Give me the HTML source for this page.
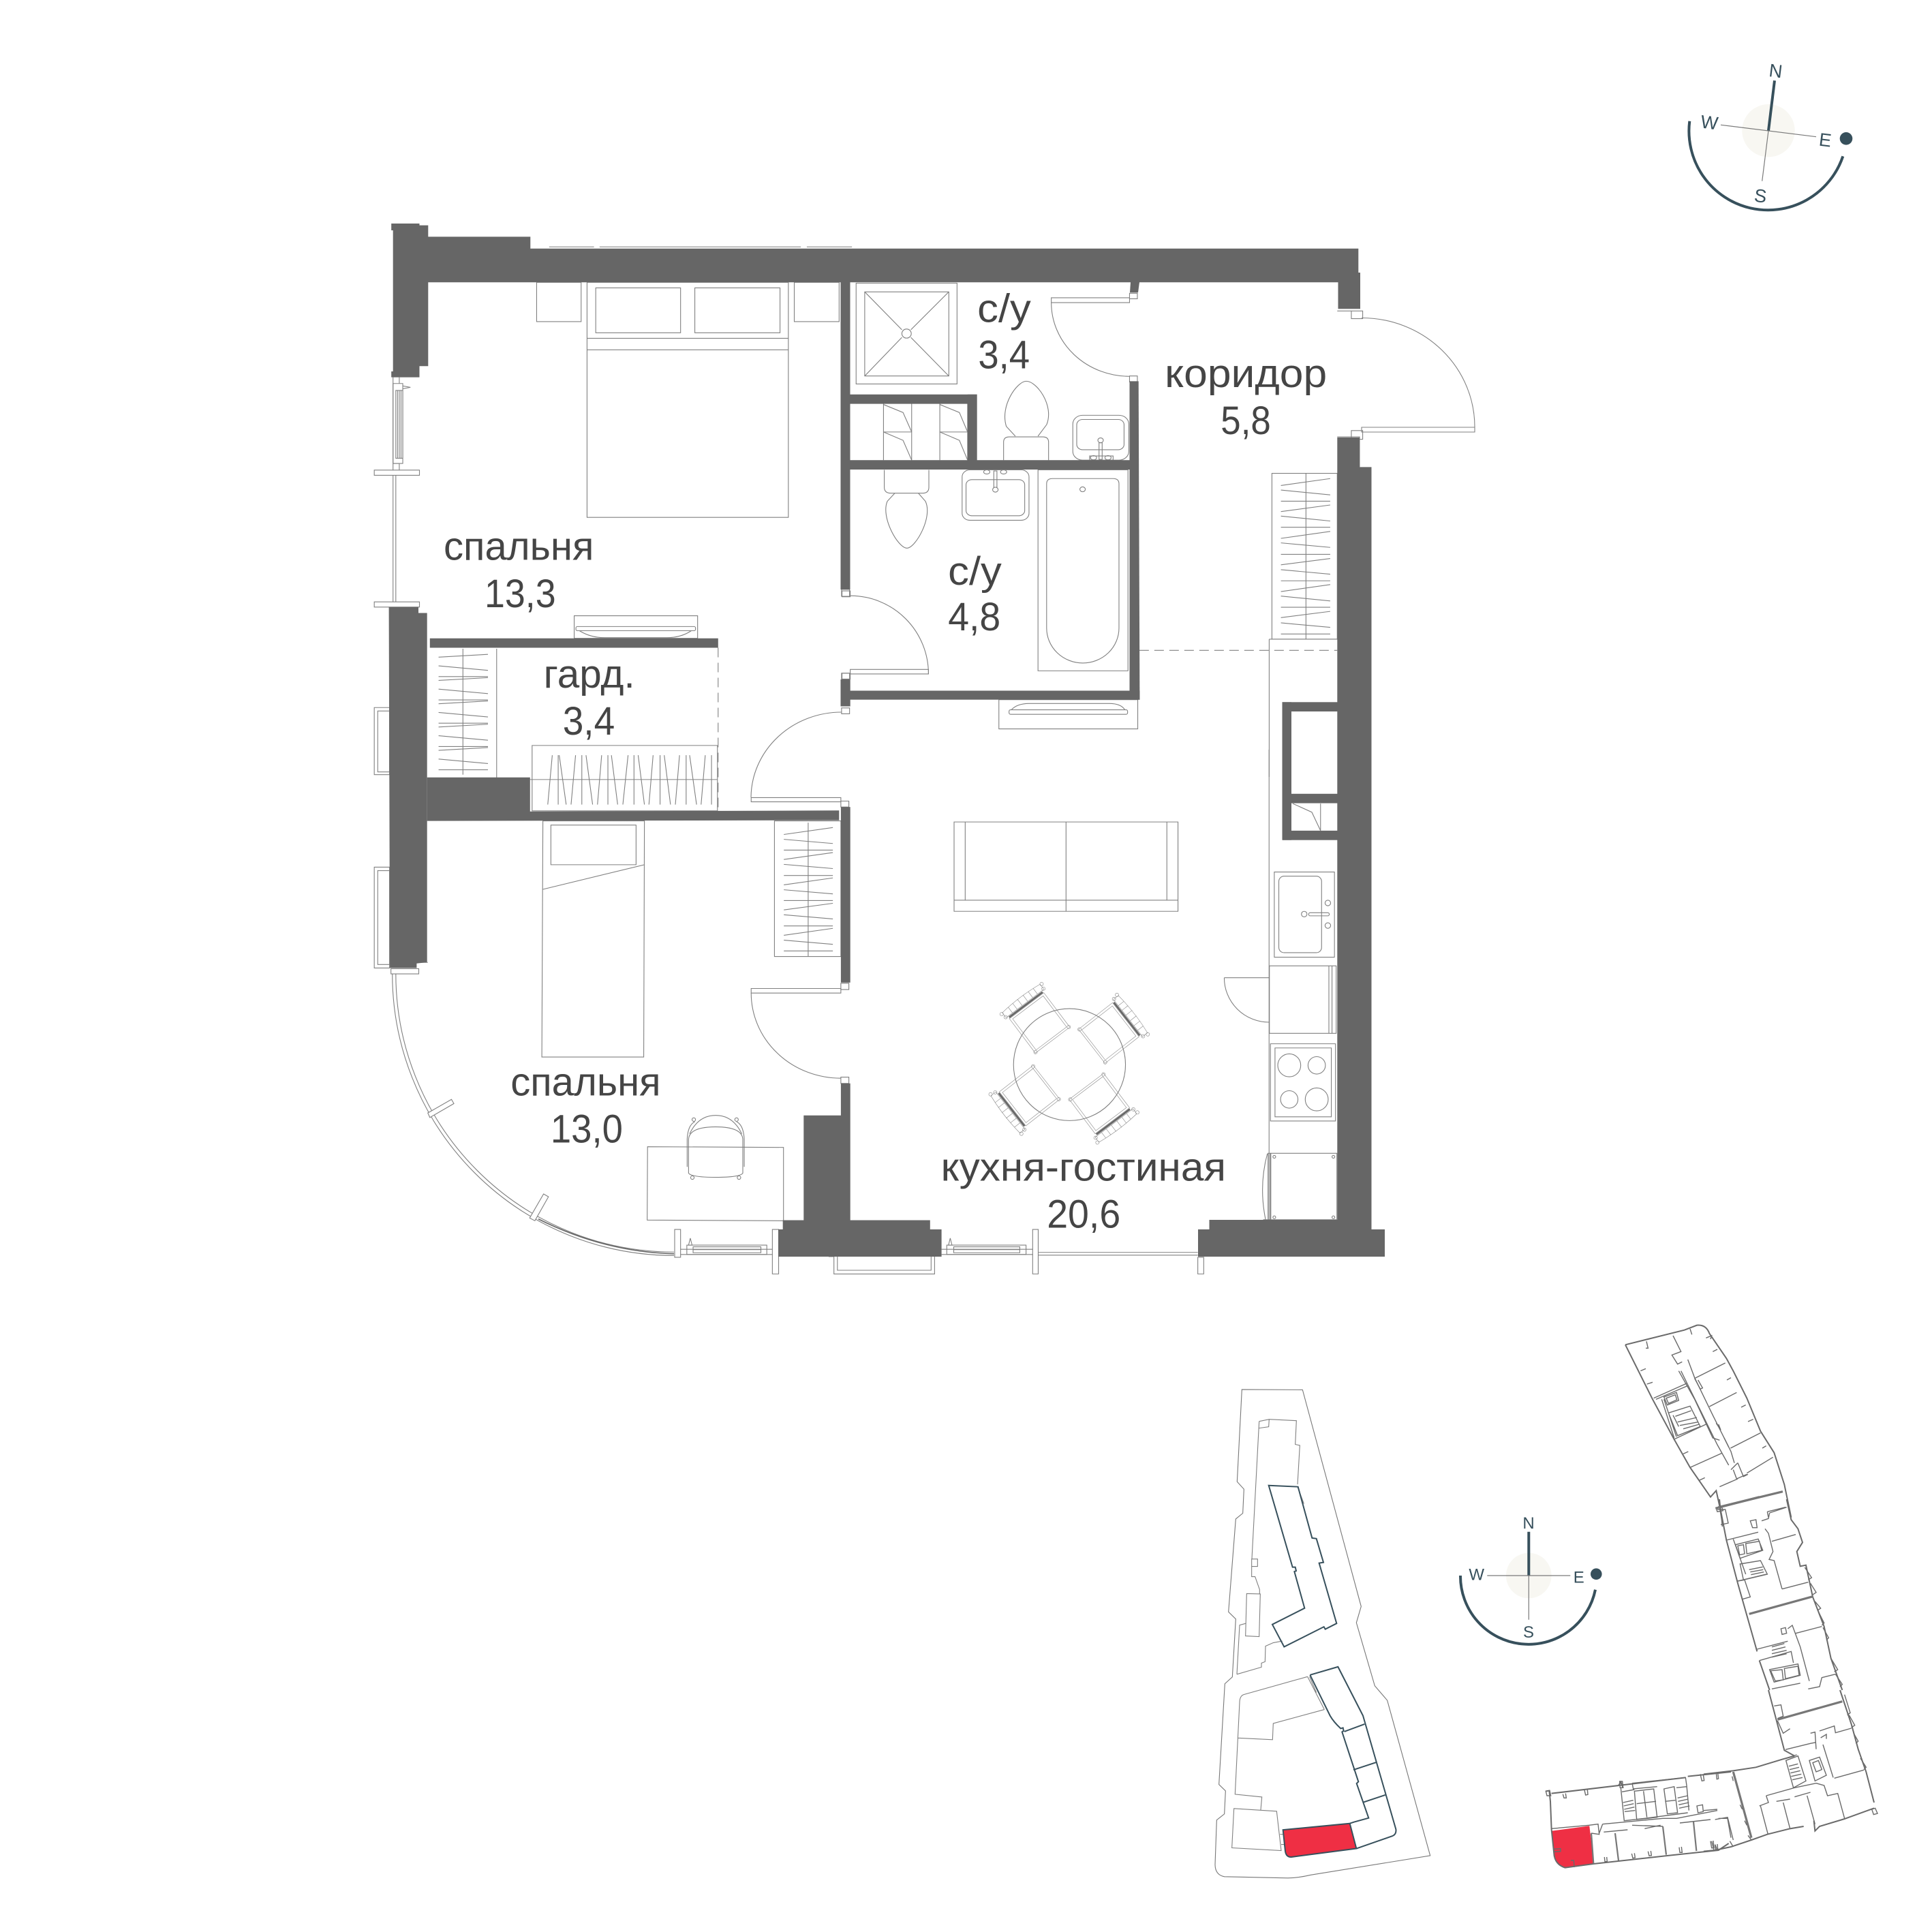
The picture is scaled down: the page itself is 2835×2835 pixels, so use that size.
<!DOCTYPE html>
<html><head><meta charset="utf-8"><style>
html,body{margin:0;padding:0;background:#fff}
svg{display:block;position:absolute;left:0;top:0}
.l,.l *{fill:none;stroke:#808080;stroke-width:1.1;vector-effect:non-scaling-stroke}
.n,.n *{vector-effect:non-scaling-stroke}
.p,.p *{fill:none;stroke:#6a6a6a;stroke-width:1.4;vector-effect:non-scaling-stroke}
.p .o{stroke-width:2}
.p .k{stroke-width:3.2;stroke:#777}
.w{fill:#666;stroke:none}
text.t{font-family:"Liberation Sans",sans-serif;font-size:58px;fill:#454545}
text.c{font-family:"Liberation Sans",sans-serif;fill:#37505c;text-anchor:middle;dominant-baseline:central}
</style></head><body>
<svg xmlns="http://www.w3.org/2000/svg" width="2835" height="2835" viewBox="0 0 2835 2835">
<rect width="2835" height="2835" fill="#fff"/>
<defs>
<g id="ch">
<rect x="-62" y="-62" width="124" height="124"/>
<rect x="-55" y="-56" width="110" height="112"/>
<circle cx="-60" cy="60" r="5"/><circle cx="60" cy="60" r="5"/>
<path d="M-68 -70H68M-68 -88Q0 -96 68 -88M-68 -70L-68 -88M68 -70L68 -88M-45 -70V-90M-28 -70V-92M-10 -70V-93M10 -70V-93M28 -70V-92M45 -70V-90"/>
<rect x="-60" y="-68" width="120" height="5" style="fill:#666"/>
<circle cx="-68" cy="-72" r="5"/><circle cx="68" cy="-72" r="5"/><circle cx="-72" cy="-86" r="5"/><circle cx="72" cy="-86" r="5"/>
</g>
</defs>

<!-- GROUP A -->
<g class="l" transform="translate(540,300) scale(.5102)">
<path d="M521 122H650M666 122H1245M1262 122H1392"/>
<rect x="485" y="224" width="128" height="113"/>
<rect x="1226" y="224" width="129" height="113"/>
<rect x="630" y="224" width="579" height="676"/>
<path d="M630 385H1209M630 418H1209"/>
<rect x="655" y="240" width="244" height="129"/>
<rect x="940" y="240" width="245" height="129"/>
<path d="M72 497V765M90 497V515"/>
<rect x="72" y="515" width="28" height="230"/>
<rect x="80" y="535" width="20" height="195"/>
<path d="M85 535V730M90 535V730M95 535V730M100 522L122 526L100 530M72 745H90V765"/>
<rect x="18" y="764" width="130" height="15"/>
<path d="M72 779V1143M80 779V1143"/>
<rect x="18" y="1143" width="130" height="15"/>
<rect x="18" y="1447" width="44" height="193"/>
<rect x="28" y="1457" width="34" height="175"/>
<path d="M203 1302L345 1294M203 1327L345 1340M203 1358H345M203 1369L345 1361M203 1394L345 1407M203 1425H345M203 1436L345 1428M203 1461L345 1474M203 1492H345M203 1503L345 1495M203 1528L345 1541M203 1559H345M203 1570L345 1562M203 1595L345 1608M203 1626H345"/>
<path d="M273 1278V1640M370 1278V1650"/>
<rect x="593" y="1183" width="355" height="65"/>
<rect x="598" y="1214" width="344" height="12" rx="4"/>
<path d="M608 1226Q640 1246 680 1246H860Q900 1246 930 1226"/>
<path d="M1007 1275V1743" style="stroke-dasharray:14 8"/>
<rect x="1362" y="1348" width="23" height="17"/>
<rect x="1362" y="1448" width="23" height="17"/>
<rect x="1362" y="1107" width="23" height="20"/>
</g>

<!-- GROUP B -->
<g class="l" transform="translate(1200,340) scale(.574,.5102)">
<rect x="98" y="148" width="258" height="290"/>
<rect x="120" y="173" width="215" height="242"/>
<path d="M120 173L215 282M335 173L238 282M120 415L215 304M335 415L238 304"/>
<ellipse cx="227" cy="293" rx="12" ry="13"/>
<path d="M168 495V657M240 495V657M312 495V657M383 495V657M168 576H240M312 576H383"/>
<path d="M168 497L218 520L240 576M168 576L218 600L240 657M312 497L362 520L383 576M312 576L362 600L383 657"/>
<path d="M475 657V605Q475 590 490 590H575Q590 590 590 605V657"/>
<path d="M505 588L482 560C465 500 510 430 533 430C560 430 605 500 585 555L563 588"/>
<path d="M170 685V735Q170 752 187 752H268Q284 752 284 735V685"/>
<path d="M197 752L178 775C160 820 205 910 228 910C250 910 295 820 275 775L257 752"/>
<rect x="652" y="528" width="143" height="129" rx="25"/>
<rect x="662" y="540" width="121" height="87" rx="15"/>
<circle cx="723" cy="600" r="7"/>
<rect x="719" y="607" width="8" height="48"/>
<ellipse cx="705" cy="650" rx="8" ry="6"/><ellipse cx="742" cy="650" rx="8" ry="6"/>
<path d="M695 645H755V657H695Z"/>
<rect x="369" y="685" width="171" height="145" rx="20"/>
<rect x="379" y="713" width="150" height="104" rx="15"/>
<circle cx="454" cy="742" r="7"/>
<rect x="450" y="688" width="8" height="47"/>
<ellipse cx="432" cy="691" rx="8" ry="6"/><ellipse cx="475" cy="691" rx="8" ry="6"/>
<rect x="563" y="685" width="230" height="578"/>
<path d="M585 1140V725Q585 710 600 710H755Q770 710 770 725V1140A92 100 0 0 1 585 1140Z"/>
<circle cx="677" cy="741" r="7"/>
<rect x="463" y="1346" width="355" height="84"/>
<rect x="489" y="1375" width="303" height="13" rx="4"/>
<path d="M495 1375Q510 1357 540 1357H745Q775 1357 785 1375"/>
<rect x="83" y="1259" width="200" height="13"/>
<path d="M83 1047A200 225 0 0 1 283 1272"/>
<rect x="62" y="1033" width="21" height="17"/>
<rect x="62" y="1270" width="21" height="17"/>
<rect x="597" y="190" width="200" height="14"/>
<path d="M597 204A200 212 0 0 0 797 416"/>
<rect x="797" y="177" width="20" height="16"/>
<rect x="797" y="415" width="20" height="17"/>
<rect x="1364" y="228" width="29" height="22"/>
<rect x="1364" y="572" width="29" height="25"/>
<path d="M1328 228H1364M1328 590H1385V677"/>
<rect x="1161" y="695" width="167" height="477"/>
<path d="M1248 695V1172"/>
<path d="M1184 730L1310 710M1184 743L1310 757M1184 775H1310M1184 805L1310 786M1184 818L1310 832M1184 850H1310M1184 882L1310 862M1184 895L1310 908M1184 928H1310M1184 958L1310 940M1184 972L1310 985M1184 1004H1310M1184 1035L1310 1015M1184 1048L1310 1062M1184 1080H1310M1184 1110L1310 1092M1184 1125L1310 1138M1184 1157H1310"/>
<path d="M1154 1172V1568M1154 1172H1328"/>
<path d="M822 1204H1328" style="stroke-dasharray:14 8"/>
</g>

<g class="l">
<rect x="1998" y="627" width="166" height="7"/>
<path d="M1998 466.5A166 160 0 0 1 2164 627"/>
</g>

<!-- GROUP C -->
<g class="l" transform="translate(540,1100) scale(.5102)">
<rect x="472" y="-12" width="533" height="188"/>
<path d="M466 86H1005"/>
<path d="M517 158L530 16M550 16L570 158M547 16V158M584 158L597 16M627 16L646 158M615 16V158M660 158L672 16M700 16L718 158M690 16V158M733 158L748 16M777 16L795 158M765 16V158M808 158L820 16M852 16L870 158M840 16V158M884 158L896 16M925 16L945 158M915 16V158M958 158L970 16M988 16V158"/>
<path d="M1102 138H1360V150H1102Z"/>
<rect x="1360" y="148" width="23" height="17"/>
<path d="M503 205H795L793 884H500Z"/>
<rect x="526" y="217" width="245" height="114"/>
<path d="M502 402L795 331"/>
<rect x="1169" y="205" width="191" height="390"/>
<path d="M1266 210V595"/>
<path d="M1196 244L1337 224M1196 258L1337 270M1196 289H1337M1196 316L1337 296M1196 330L1337 342M1196 362H1337M1196 389L1337 369M1196 403L1337 415M1196 434H1337M1196 461L1337 442M1196 475L1337 487M1196 507H1337M1196 534L1337 514M1196 548L1337 560M1196 579H1337"/>
<path d="M1102 687H1360V700H1102Z"/>
<path d="M1102 700A258 245 0 0 0 1360 945"/>
<rect x="1360" y="672" width="23" height="18"/>
<rect x="1360" y="942" width="23" height="18"/>
<rect x="18" y="338" width="44" height="290"/>
<rect x="28" y="348" width="34" height="270"/>
<rect x="66" y="630" width="80" height="15"/>
<path d="M140 612H172"/>
<path d="M70 645A810 810 0 0 0 880 1455M80 645A800 800 0 0 0 880 1445"/>
<path d="M172 1045L240 1006L247 1018L178 1058Z" style="fill:#fff"/>
<path d="M465 1347L505 1278L519 1286L480 1355Z" style="fill:#fff"/>
<path d="M490 1350Q680 1445 880 1450" style="stroke:#666;stroke-width:1.6"/>
<rect x="882" y="1380" width="17" height="80"/>
<rect x="1163" y="1380" width="18" height="128"/>
<path d="M899 1437H1163M899 1452H1163"/>
<rect x="917" y="1425" width="230" height="27"/>
<rect x="935" y="1430" width="195" height="17"/>
<path d="M935 1438H1130M922 1425L927 1405L932 1425Z"/>
<path d="M804 1142L1195 1144V1355L803 1353Z"/>
<path d="M922 1218V1120Q925 1085 1000 1085Q1075 1085 1078 1120V1218Q1070 1230 1000 1230Q930 1230 922 1218Z"/>
<path d="M925 1105Q950 1052 1000 1052Q1050 1052 1075 1105M918 1200V1120Q920 1080 940 1070M1082 1200V1120Q1080 1080 1060 1070"/>
<circle cx="937" cy="1064" r="5"/><circle cx="1060" cy="1064" r="5"/><circle cx="933" cy="1231" r="5"/><circle cx="1067" cy="1231" r="5"/>
</g>
<g class="l"><path d="M1235 1045A133 126 0 0 0 1102 1170"/></g>

<!-- GROUP D -->
<g class="l" transform="translate(1300,1100) scale(.5102)">
<path d="M1102 0V1160"/>
<path d="M1250 155V233M1170 155L1225 180L1250 233"/>
<rect x="196" y="208" width="644" height="257"/>
<path d="M228 208V433M518 208V465M808 208V433M196 433H840"/>
<circle cx="528" cy="906" r="161"/>
<use href="#ch" transform="translate(442,786) rotate(-37)"/>
<use href="#ch" transform="translate(641,815) rotate(52)"/>
<use href="#ch" transform="translate(413,995) rotate(232)"/>
<use href="#ch" transform="translate(614,1018) rotate(143)"/>
<rect x="1117" y="352" width="173" height="245"/>
<rect x="1130" y="364" width="123" height="220" rx="15"/>
<circle cx="1271" cy="441" r="8"/><circle cx="1271" cy="506" r="8"/><circle cx="1203" cy="473" r="8"/>
<rect x="1216" y="469" width="59" height="9" rx="4"/>
<rect x="1103" y="622" width="192" height="194"/>
<path d="M1274 622V816M1283 622V816"/>
<path d="M973 656H1102M973 656A129 128 0 0 0 1102 784"/>
<rect x="1106" y="846" width="187" height="222"/>
<rect x="1119" y="858" width="162" height="198"/>
<circle cx="1160" cy="908" r="33"/><circle cx="1239" cy="908" r="25"/><circle cx="1160" cy="1006" r="25"/><circle cx="1239" cy="1006" r="33"/>
<rect x="1107" y="1161" width="190" height="191"/>
<circle cx="1117" cy="1171" r="4"/><circle cx="1287" cy="1171" r="4"/><circle cx="1117" cy="1345" r="4"/><circle cx="1287" cy="1345" r="4"/>
<rect x="1099" y="1161" width="7" height="191" style="fill:#bbb"/>
<path d="M1097 1162Q1072 1255 1092 1352"/>
<path d="M1085 1352H1105"/>
<path d="M160 1437H423M160 1452H423"/>
<rect x="175" y="1425" width="228" height="27"/>
<rect x="195" y="1430" width="190" height="17"/>
<path d="M195 1438H385M180 1425L185 1405L190 1425Z"/>
<rect x="422" y="1380" width="16" height="128"/>
<path d="M438 1446H897M438 1454H897"/>
<rect x="897" y="1460" width="17" height="48"/>
</g>
<g class="l">
<path d="M1223.7 1844V1869.4H1371.4V1844M1228.8 1844V1864H1366.3V1844M1216 1844H1224"/>
</g>

<!-- WALLS -->
<g class="w">
<polygon points="574.2,328 615.5,328 615.5,330.6 628.3,330.6 628.3,347.4 778.3,347.4 778.3,364.7 1993.3,364.7 1993.3,400 1996,400 1996,453.3 1963.5,453.3 1963.5,414.3 628.3,414.3 628.3,537.2 615.5,537.2 615.5,553.6 574.2,553.6 574.2,545 576.7,545 576.7,338 574.2,338"/>
<rect x="1233.5" y="414" width="14" height="451"/>
<rect x="1233.5" y="675.2" width="437" height="13.8"/>
<rect x="1233.5" y="578.8" width="200" height="13.8"/>
<rect x="1419.9" y="578.8" width="13.8" height="110"/>
<polygon points="1657.5,559.4 1670.7,559.4 1672.4,1026.7 1657.5,1026.7"/>
<rect x="1233.5" y="1013.5" width="438.9" height="13.2"/>
<rect x="1233.5" y="997" width="14.2" height="39.5"/>
<polygon points="1659,414 1672,414 1670,429.3 1658,429.3"/>
<polygon points="1962.3,642 1995,642 1995,685.4 2012.5,685.4 2012.5,1804 2032,1804 2032,1844 1758,1844 1758,1804 1774.5,1804 1774.5,1790 1962.3,1790"/>
<rect x="1881.5" y="1030.3" width="81" height="13.7"/>
<rect x="1881.5" y="1030.3" width="13.5" height="202.4"/>
<rect x="1895" y="1164.8" width="67.5" height="13.8"/>
<rect x="1882" y="1218.9" width="80.5" height="13.8"/>
<polygon points="570.6,890.8 614,890.8 614,899.5 626.7,899.5 626.7,1412 611.4,1413.8 611.4,1420.4 572.1,1420.4"/>
<polygon points="626.7,1140.8 777.8,1140.8 777.8,1190.8 1231.3,1189.3 1231.3,1203.6 626.7,1204.6"/>
<rect x="630.8" y="936.7" width="423" height="13.8"/>
<rect x="1233.9" y="1184.2" width="13.8" height="257.6"/>
<polygon points="1233.9,1589.8 1247.7,1589.8 1247.7,1790.5 1364.8,1790.5 1364.8,1804 1381.6,1804 1381.6,1844 1142,1844 1142,1804 1148.7,1804 1148.7,1790.5 1179.3,1790.5 1179.3,1636.7 1233.9,1636.7"/>
</g>

<!-- top compass -->
<circle cx="2595" cy="191.7" r="38.7" fill="#f8f7f2"/>
<path d="M2479.3 177.7A116 116 0 0 0 2704.3 229.3" fill="none" stroke="#37505c" stroke-width="4"/>
<circle cx="2709" cy="203.3" r="9.3" fill="#37505c"/>
<path d="M2595 191.7L2604 118.3" stroke="#37505c" stroke-width="4"/>
<path d="M2595 191.7L2585.7 265.7M2525 183.3L2665 200.7" stroke="#7a7a7a" stroke-width="1.2"/>
<text class="c" font-size="27" transform="translate(2605.7,104.3) rotate(7)">N</text>
<text class="c" font-size="27" transform="translate(2508.3,180) rotate(7)">W</text>
<text class="c" font-size="27" transform="translate(2678.3,205.7) rotate(7)">E</text>
<text class="c" font-size="27" transform="translate(2583.3,287.7) rotate(7)">S</text>

<!-- bottom compass -->
<circle cx="2243.3" cy="2312" r="33.3" fill="#f8f7f2"/>
<path d="M2143 2312A100 100 0 0 0 2341 2332.7" fill="none" stroke="#37505c" stroke-width="4"/>
<circle cx="2342.3" cy="2309.7" r="8.3" fill="#37505c"/>
<path d="M2243.3 2312V2247.7" stroke="#37505c" stroke-width="4"/>
<path d="M2243.3 2312V2376.7M2182.3 2312H2304.3" stroke="#7a7a7a" stroke-width="1.2"/>
<text class="c" font-size="24" x="2243" y="2235.7">N</text>
<text class="c" font-size="24" x="2166.7" y="2311">W</text>
<text class="c" font-size="24" x="2316.7" y="2315">E</text>
<text class="c" font-size="24" x="2243" y="2395.7">S</text>

<!-- site plan -->
<g transform="translate(1780,2020) scale(.33333,.4975)">
<g class="l">
<path style="stroke:#777" d="M127 38L394 39L652 678L631 726L712 912L767 955L956 1413L430 1470Q380 1478 330 1479L50 1475Q10 1470 9 1440L16 1308L50 1290L55 1222L26 1203L52 906L85 886L100 715L68 694L100 420L131 403L136 332L106 310Z"/>
<path d="M105 878L117 733L144 728M148 640L208 641L203 767L143 765ZM203 132L247 126L367 130L362 200L382 203L372 318M203 132L171 537M203 152L245 148L247 126M170 538H196V560H170ZM170 560V590H185L205 628V640M105 878L213 857V845L229 841L231 795L265 785L305 780"/>
<path d="M372 325L400 375"/>
<path d="M416 885L135 938Q118 942 117 960L97 1232L215 1240L210 1278M92 1274L280 1282L300 1398L83 1390ZM110 1066L262 1071L265 1023L490 982M416 885L490 982M425 885L455 932M295 1350H308M300 1380H315"/>
</g>
<g class="n" fill="none" stroke="#37505c" stroke-width="2">
<path d="M245 321L374 325L436 476L455 478L486 548L467 550L544 728L494 745L488 738L313 797L261 731L403 683L358 575L366 573L362 562L350 562Z"/>
<path d="M427 880L550 856L660 1000L805 1335Q808 1350 790 1355L631 1392M427 880L515 1000Q530 1018 562 1038L572 1036L575 1045L568 1048L640 1195L632 1200L685 1302L620 1314L602 1318"/>
<path d="M578 1047L667 1025M618 1160L717 1138M660 1256L758 1234"/>
<path d="M308 1337L602 1318L631 1392L345 1417Q322 1418 318 1400Z" fill="#ef2f44"/>
</g>
</g>

<!-- tower plan: upper wing -->
<g class="p" transform="translate(2380,1950) scale(.33333)">
<path class="o" d="M15 70L275 5L330 -16Q370 -20 385 20L460 130L490 185L550 305L610 450L670 545L715 685L745 830M15 70L135 310L232 490L300 610L390 740L415 712L430 780L440 840"/>
<path d="M225 30L260 100L220 115L245 155L265 145M250 185L320 310L400 480L430 490M290 135L320 215L400 380L480 540L495 590M260 185L420 510L470 600"/>
<path d="M320 218L455 150M385 342L505 280M478 525L610 458M300 610L440 547M430 695L510 660M550 635L665 565"/>
<path d="M140 305L285 240M150 310L290 250M185 300L240 280L250 315L200 335ZM195 305L235 290L242 312L205 328ZM205 370L300 340L345 430L245 470ZM232 485L370 420M245 410L330 390M255 425L335 410M270 440L340 420M225 380L250 430M175 310L230 480M185 310L240 475M235 385L305 360"/>
<path d="M510 590L535 650L555 640M480 620L510 590M490 620L505 660L550 640M640 805L645 830M640 805L720 785M320 218L345 265L355 260L335 225M415 415L435 445L425 420M450 480L470 520"/>
<path class="k" d="M425 785L708 716"/>
<path d="M415 790L440 785L445 800L420 805ZM108 55L115 85L105 85M300 0L308 25M370 40L395 30L390 45M400 100L420 90M82 185L105 175M110 243L135 235M462 225L480 215M525 345L545 335M555 408L578 398M618 525L635 515M270 550L292 540M338 668L365 655"/>
</g>
<!-- tower plan: middle wing -->
<g class="p" transform="translate(2510,2200) scale(.33333)">
<path class="o" d="M35 0L70 180L120 370L205 670M215 710L260 840M335 0L355 90L385 130L405 190L380 230L395 295L420 290L450 430L500 560L530 700L580 840"/>
<path d="M415 300L445 345L430 355M440 370L465 410L450 420M460 450L485 480L470 490M475 495L500 545L490 555M495 565L520 610L510 620M530 700L560 750L545 760M550 770L580 815L570 825"/>
<path class="k" d="M22 40L215 -10M170 505L450 428"/>
<path d="M70 180L210 145M260 60L335 35M260 60L255 85L225 95M270 185L375 155M315 395L430 365M315 395L280 270L258 265L275 230L255 150L240 130"/>
<path d="M110 200L210 175L230 225L130 260ZM120 205L145 200L150 240L128 245ZM155 195L215 185L225 225L160 240Z"/>
<path d="M130 285L220 270L250 330L145 355ZM170 310L230 298M175 320L232 310M178 332L235 320M120 360L245 330"/>
<path d="M120 360L150 355L175 430L140 440M30 45L65 45L78 105L45 112M175 95L200 90L205 125L185 125ZM205 660L340 625M340 570L360 555L395 650L435 800M310 570L330 565L335 590L315 595ZM375 590L490 560M215 710L355 670L365 720"/>
<path d="M270 650L325 635M270 665L330 650M270 680L335 665M270 695L335 680M260 750L385 725L395 775L280 805ZM265 755L315 750L320 795L285 800ZM325 745L385 735L390 775L330 790ZM270 835L395 810M430 835L480 825L490 785L550 770M40 0L52 120M100 175L155 330"/>
</g>
<!-- tower plan: east corner -->
<g class="p" transform="translate(2500,2480) scale(.33333)">
<path class="o" d="M600 0L650 150L680 260L715 360L750 495M750 520L620 567L510 600L490 620L485 575M440 600L380 610L280 635L210 660L120 690L50 705L0 710M285 0L355 265L400 290M0 370L130 355L230 340L345 305L400 290"/>
<path d="M740 525L755 520L765 543L748 548ZM620 20L645 100L632 110M640 110L665 155L650 165M660 190L680 225L670 235M690 300L715 340L705 350"/>
<path class="k" d="M325 130L610 50M130 360L210 650"/>
<path d="M360 262L470 235L495 230M345 305L410 285M510 180L575 158L580 188L650 168M575 388L705 352M470 190L490 185L495 260M310 70L340 65L350 115L325 125M325 135L350 190L380 170"/>
<path d="M362 310L415 290L450 400L395 430ZM375 335L415 325M378 350L420 340M382 365L425 355M385 380L430 370M390 395L435 385M465 310L510 295L540 375L490 400ZM480 320L505 310L520 350L495 360ZM525 240L570 385M515 210L540 195L540 215"/>
<path d="M275 465L400 430L495 410L530 420L545 465L590 455L620 565M245 510L285 495L275 465M250 510L283 635M350 495L380 610M455 465L490 590M320 490L380 480M400 470L470 450M0 530L60 525M50 570L105 560L130 660M35 665L45 705M50 680L60 705M115 665L130 690M125 380L130 400M160 505L170 525M180 575L190 595M195 640L210 660"/>
</g>
<!-- tower plan: south wing -->
<g class="p" transform="translate(2260,2590) scale(.33333)">
<path d="M52 292L215 270L235 435L110 452Q70 440 62 400Z" style="fill:#ef2f44;stroke:#ef2f44"/>
<path d="M60 370L90 368L90 380L60 382ZM135 420L148 420L150 450"/>
<path class="o" d="M25 115L40 113L45 160L50 285L62 400Q70 440 110 452L235 435L570 398L785 375L830 345M50 125L345 90L355 75L365 100M345 90L640 55M650 50L840 30"/>
<path d="M25 115L42 112L47 135L30 135ZM350 72L362 72L365 100L352 100ZM355 100L370 245L460 235L650 210M405 80L640 55L645 90L655 200M405 80L410 105L515 95M360 118L415 108M415 115L500 105L515 230L425 240ZM455 115L470 230M425 170L510 160M545 105L590 95L605 210L560 215ZM550 160L595 155M600 100L645 95"/>
<path d="M365 165L410 155M368 180L412 170M370 195L415 185M372 205L418 200M605 145L650 135M607 160L652 150M610 175L655 165M612 190L658 180"/>
<path d="M50 280L215 265L255 260L260 305L225 300M275 260L540 235L600 235L780 200M690 180L715 175L718 205L695 210ZM275 260L260 300M280 295L385 285M405 265L540 270M460 280L530 265M615 255L750 240M785 235L825 235L840 320"/>
<path class="k" style="stroke-width:2.2" d="M225 300L235 435M330 300L345 420M540 270L555 395M675 250L688 378"/>
<path d="M100 128L105 145L115 145L112 125M195 110L200 132L210 130L208 108M283 405L285 425L295 425L293 405M403 390L408 410L418 408L415 388M475 380L480 400L490 398L487 378M612 362L615 385L625 385L622 360M750 335L755 365L765 365L762 333M770 350L772 372L782 372L780 348M705 40L712 70L722 68L718 42M775 35L778 62L785 60L782 35"/>
</g>

<!-- labels -->
<text class="t" x="651" y="821.4" textLength="220.4" lengthAdjust="spacingAndGlyphs">спальня</text>
<text class="t" x="711" y="890.8" textLength="104.6" lengthAdjust="spacingAndGlyphs">13,3</text>
<text class="t" x="797.7" y="1009.2" textLength="134" lengthAdjust="spacingAndGlyphs">гард.</text>
<text class="t" x="825.7" y="1078" textLength="76.5" lengthAdjust="spacingAndGlyphs">3,4</text>
<text class="t" x="1434.2" y="472.7" textLength="78.6" lengthAdjust="spacingAndGlyphs">с/у</text>
<text class="t" x="1435.4" y="540.5" textLength="75.7" lengthAdjust="spacingAndGlyphs">3,4</text>
<text class="t" x="1709.2" y="568" textLength="238" lengthAdjust="spacingAndGlyphs">коридор</text>
<text class="t" x="1791.3" y="637" textLength="73.5" lengthAdjust="spacingAndGlyphs">5,8</text>
<text class="t" x="1391.2" y="857.9" textLength="78.6" lengthAdjust="spacingAndGlyphs">с/у</text>
<text class="t" x="1391.2" y="925.2" textLength="77" lengthAdjust="spacingAndGlyphs">4,8</text>
<text class="t" x="749.2" y="1607.7" textLength="220.4" lengthAdjust="spacingAndGlyphs">спальня</text>
<text class="t" x="807.9" y="1676.5" textLength="106" lengthAdjust="spacingAndGlyphs">13,0</text>
<text class="t" x="1380.6" y="1732.7" textLength="418.4" lengthAdjust="spacingAndGlyphs">кухня-гостиная</text>
<text class="t" x="1536.2" y="1801.6" textLength="108" lengthAdjust="spacingAndGlyphs">20,6</text>
</svg>
</body></html>
